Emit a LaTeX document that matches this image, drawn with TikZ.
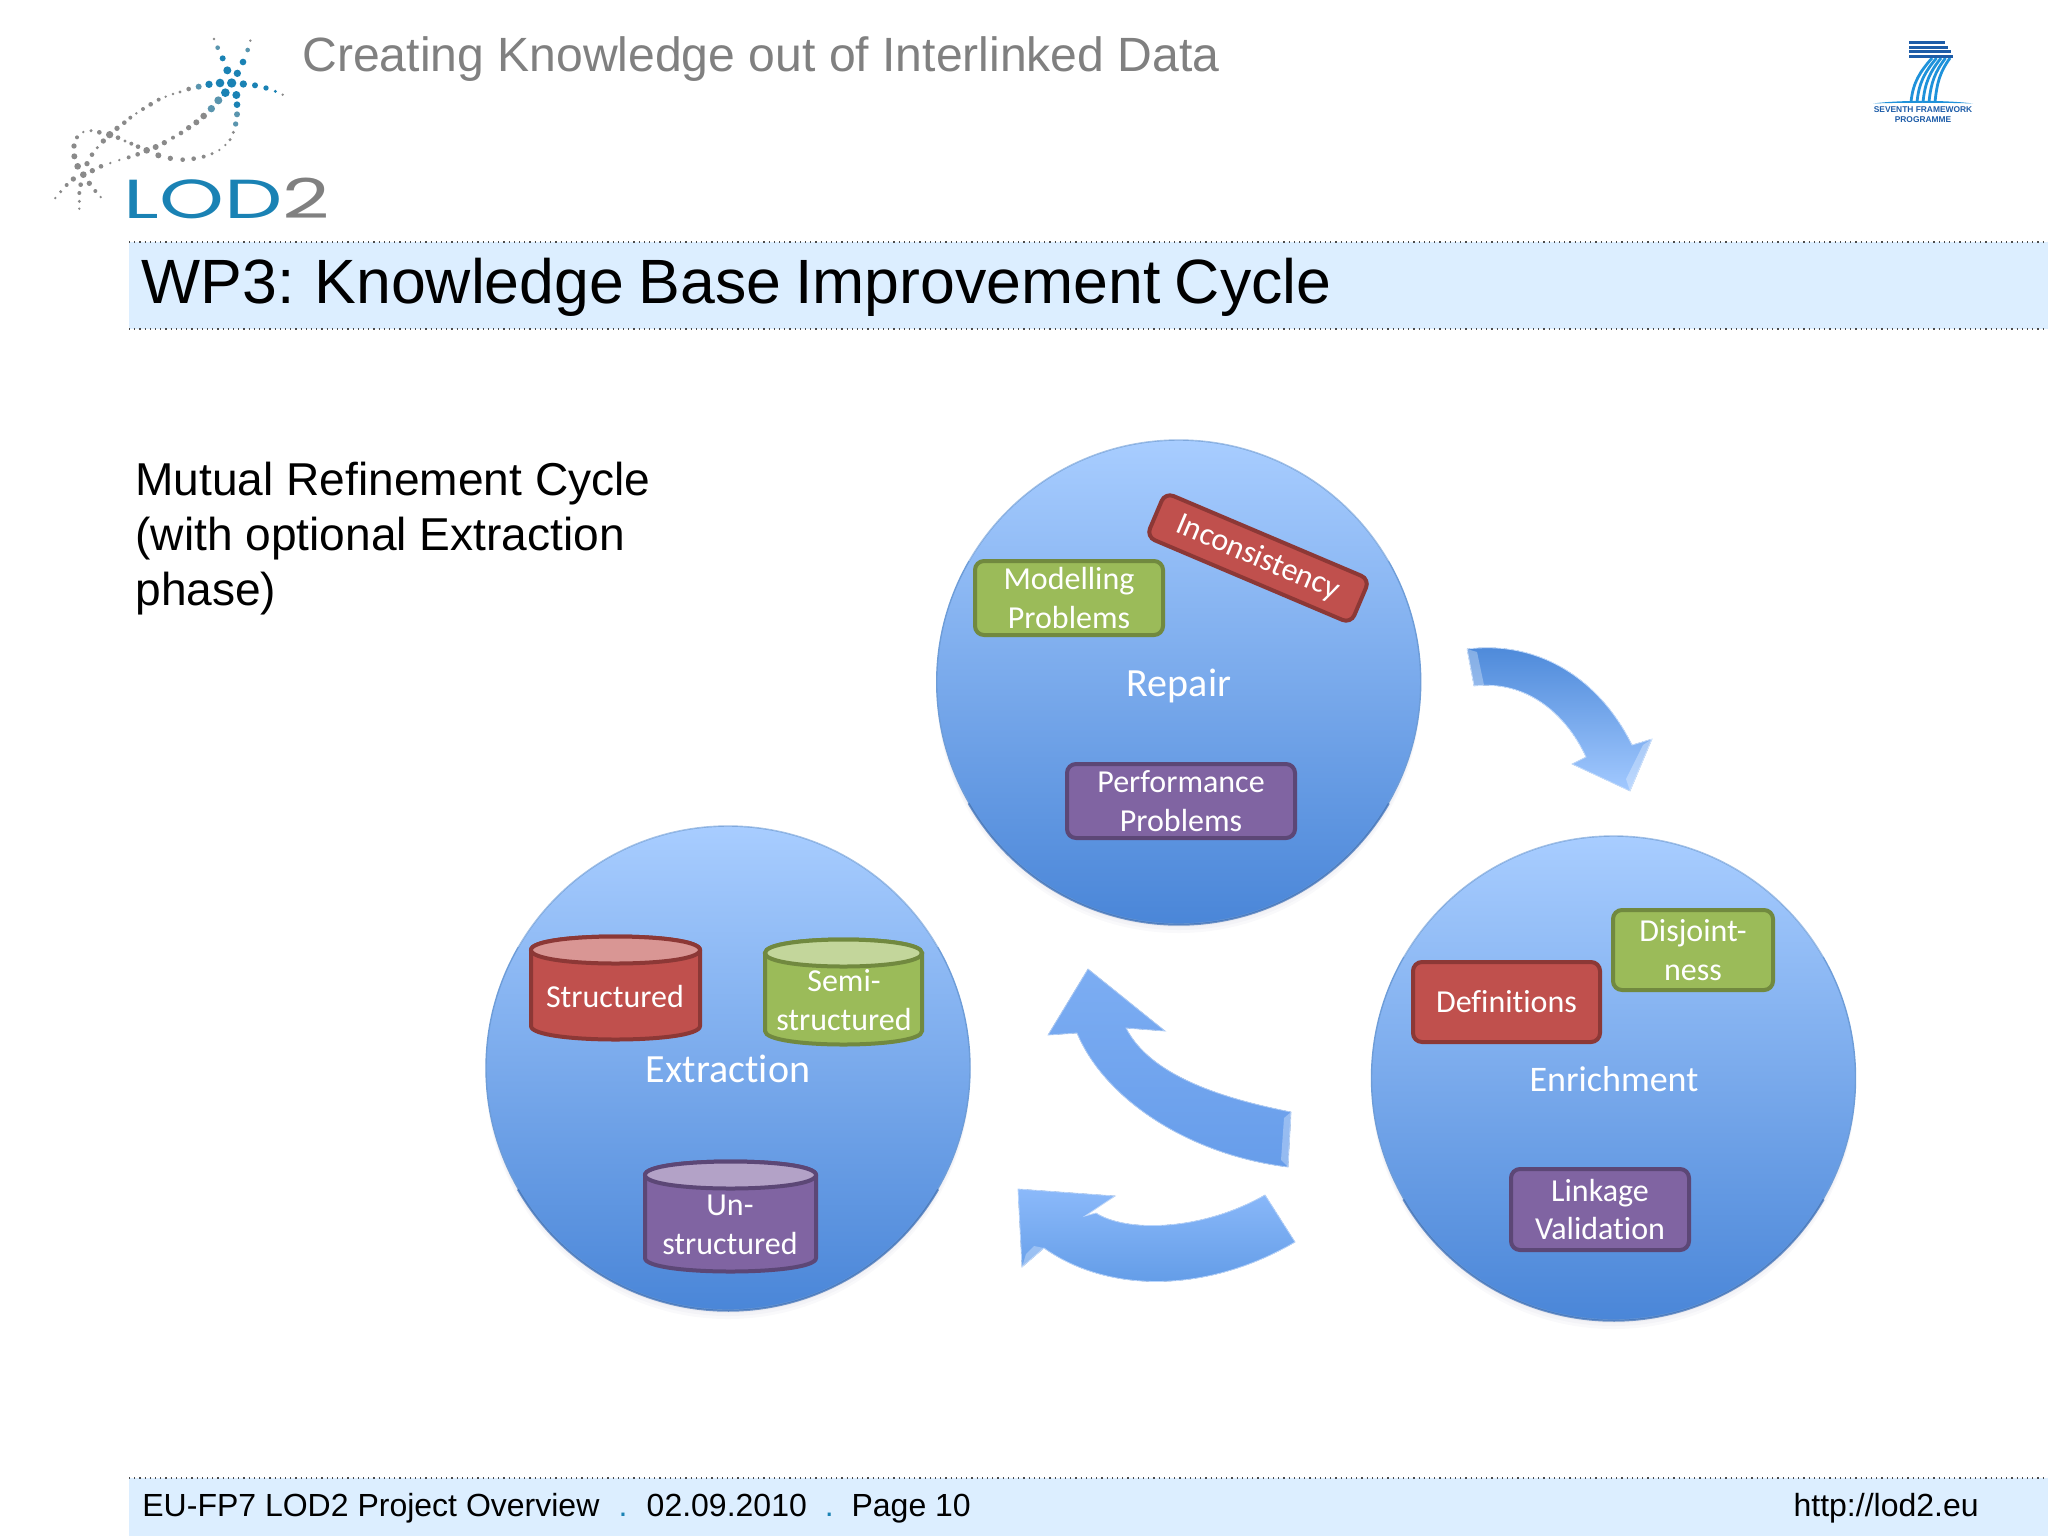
\documentclass[tikz,border=0pt]{standalone}
\usepackage{fontspec}
\setmainfont{Liberation Sans}
\newfontfamily\titlefont[WordSpace=0.82]{Liberation Sans}
\newfontfamily\calfont[Ligatures=NoCommon]{Carlito}
\newfontfamily\lodfont{Poppins}
\usetikzlibrary{shapes.geometric}
\definecolor{cTop}{HTML}{A8CDFF}
\definecolor{cMid}{HTML}{80AEF0}
\definecolor{cBot}{HTML}{4A86D8}
\definecolor{cEdge}{HTML}{6E9DD8}
\definecolor{cRed}{HTML}{C0504D}
\definecolor{cRedD}{HTML}{8C3836}
\definecolor{cRedL}{HTML}{D99694}
\definecolor{cGreen}{HTML}{9BBB59}
\definecolor{cGreenD}{HTML}{71893F}
\definecolor{cGreenL}{HTML}{C3D69B}
\definecolor{cPurple}{HTML}{8064A2}
\definecolor{cPurpleD}{HTML}{5C4776}
\definecolor{cPurpleL}{HTML}{B3A2C7}
\definecolor{cBar}{HTML}{DCEEFF}
\definecolor{cGrayT}{HTML}{808080}
\definecolor{cTeal}{HTML}{1A82B4}
\definecolor{cMixd}{HTML}{5A95AE}
\definecolor{cDot}{HTML}{8A8A8A}
\definecolor{fpDark}{HTML}{1D5CA8}
\definecolor{fpLight}{HTML}{1F92DA}
\definecolor{cRimD}{HTML}{3A6DB5}
\tikzset{
  bigcircle/.style={circle,minimum size=242pt,inner sep=0pt,draw=cEdge,line width=.7pt,top color=cTop,middle color=cMid,bottom color=cBot},
  rim/.style={line width=1pt,color=white,opacity=.35},
  rimdark/.style={line width=1pt,color=cRimD,opacity=.7},
  circlabel/.style={text=white,font=\calfont\fontsize{20}{24}\selectfont},
  probox/.style={rounded corners=4.5pt,line width=2pt,text=white,align=center,inner sep=0pt,font=\calfont\fontsize{16}{19.3}\selectfont},
  redbox/.style={probox,fill=cRed,draw=cRedD},
  greenbox/.style={probox,fill=cGreen,draw=cGreenD},
  purplebox/.style={probox,fill=cPurple,draw=cPurpleD},
  cyltext/.style={text=white,align=center,font=\calfont\fontsize{16}{19.3}\selectfont},
  blockarrow/.style={draw=#1!60!white,line width=.4pt},
  rule/.style={dotted,line width=.6pt,color=black!70},
  bevel/.style={fill=white,opacity=.3},
}
\newcommand{\cylshape}[7]{% x0 x1 y0 y1 fill edge light
  \filldraw[line width=2pt,draw=#6,fill=#5] (#1,#3+14) -- (#1,#4-14) .. controls (#1,#4+4) and (#2,#4+4) .. (#2,#4-14) -- (#2,#3+14) .. controls (#2,#3-4) and (#1,#3-4) .. (#1,#3+14) -- cycle;
  \filldraw[line width=2pt,draw=#6,fill=#7] (#1,#3+14) .. controls (#1,#3-4) and (#2,#3-4) .. (#2,#3+14) .. controls (#2,#3+32) and (#1,#3+32) .. (#1,#3+14) -- cycle;
}
\begin{document}
\begin{tikzpicture}[x=0.5pt,y=-0.5pt]
\useasboundingbox (0,0) rectangle (2048,1536);

% header
\node[anchor=west,text=cGrayT,font=\fontsize{24.05}{28}\selectfont,inner sep=0pt] (subtitle) at (302,59) {Creating Knowledge out of Interlinked Data};

% LOD2 logo dots
\begin{scope}[x=0.16667pt,y=-0.16667pt]
\foreach \a/\b/\r in {695/249/14,660/249/13,627/253/11,730/252/11,682/211/12,712/220/11,668/175/9,729/186/10,676/278/13,709/285/12,711/314/10,765/256/9,798/264/8,826/274/5}
  \fill[cTeal] (\a,\b) circle[radius=\r*.1667pt];
\foreach \a/\b/\r in {655/301/12,634/326/11,711/343/9,707/372/8,653/143/7,743/150/7,596/260/9}
  \fill[cMixd] (\a,\b) circle[radius=\r*.1667pt];
\foreach \a/\b/\r in {848/284/4,642/117/4,751/122/4,566/267/7,540/276/5,519/282/4,497/290/4,476/299/6,452/313/7,429/327/6,409/340/4,391/353/6,373/368/7,351/385/8,329/404/11,310/423/8,292/443/5,276/464/7,261/491/8,277/512/8,250/524/10,233/499/10,223/469/9,222/438/8,231/412/6,250/396/4,273/392/5,298/397/7,354/413/7,375/423/5,394/431/6,414/440/7,440/451/10,467/441/9,493/428/8,519/413/6,543/399/7,566/383/8,589/367/9,611/348/10,475/466/9,511/475/8,548/479/7,581/476/7,611/470/6,636/461/5,658/450/4,676/435/4,690/419/5,700/397/5,413/463/7,386/472/6,358/480/4,331/489/4,303/499/7,220/537/8,200/555/6,182/575/5,166/594/4,242/554/7,268/550/8,238/579/6,286/573/6,302/591/4,238/604/5,238/626/4}
  \fill[cDot] (\a,\b) circle[radius=\r*.1667pt];
\end{scope}
\node[anchor=west,inner sep=0pt,xscale=1.5,font=\lodfont\fontsize{27.5}{30}\selectfont] (lodmark) at (123,198) {\textcolor{cTeal}{LOD}\textcolor{cGrayT}{2}};

% FP7 logo
\foreach \i in {0,...,4}
  \draw[line width=1.4pt,color=fpLight] ({1911+6*\i},102) .. controls ({1913+6*\i},82) and ({1920+5*\i},72) .. ({1932+4.5*\i},58);
\foreach \yy/\xx in {43/1945,47.5/1948,52/1951,57/1953}
  \draw[line width=1.5pt,color=fpDark] (1909,\yy) -- (\xx,\yy);
\fill[fpLight] (1873,103.5) .. controls (1900,100) and (1945,100) .. (1973,103.5) .. controls (1945,102.5) and (1900,102.5) .. (1873,103.5) -- cycle;
\node[inner sep=0pt,align=center,text=fpDark,font=\bfseries\fontsize{4.2}{4.7}\selectfont] (fp7text) at (1923,114.5) {SEVENTH FRAMEWORK\\PROGRAMME};

% title bar
\fill[cBar] (129,242) rectangle (2048,329);
\draw[rule] (129,242) -- (2048,242);
\draw[rule] (129,329) -- (2048,329);
\node[anchor=west,inner sep=0pt,font=\titlefont\fontsize{31.3}{36}\selectfont] (title) at (141,287) {WP3: Knowledge Base Improvement Cycle};

% body text
\node[anchor=north west,inner sep=0pt,align=left,font=\fontsize{23.05}{27.5}\selectfont] (body) at (135,462) {Mutual Refinement Cycle\\(with optional Extraction\\phase)};

% footer
\fill[cBar] (129,1478) rectangle (2048,1536);
\draw[rule] (129,1478) -- (2048,1478);
\node[anchor=west,inner sep=0pt,font=\fontsize{16}{19}\selectfont] (foot) at (142,1508) {EU-FP7 LOD2 Project Overview\hspace{.6em}\textcolor{cTeal}{.}\hspace{.6em}02.09.2010\hspace{.56em}\textcolor{cTeal}{.}\hspace{.56em}Page 10};
\node[anchor=east,inner sep=0pt,font=\fontsize{16}{19}\selectfont] (url) at (1979,1508) {http://lod2.eu};

% soft shadows
\foreach \s in {3,6,9}{
  \fill[blue!30!black,opacity=.025] (1178.7,{682+\s}) circle[radius=121pt];
  \fill[blue!30!black,opacity=.025] (728,{1068+\s}) circle[radius=121pt];
  \fill[blue!30!black,opacity=.025] (1613.5,{1078+\s}) circle[radius=121pt];
}

% circles
\node[bigcircle] (repair) at (1178.7,682) {};
\node[bigcircle] (extraction) at (728,1068) {};
\node[bigcircle] (enrichment) at (1613.5,1078) {};
\foreach \c in {repair,extraction,enrichment}{
  \draw[rim] (\c.150) arc[start angle=150,end angle=30,radius=121.35pt];
  \draw[rimdark] (\c.-150) arc[start angle=-150,end angle=-30,radius=121.35pt];
}

\node[circlabel] (lrepair) at (1179,686) {Repair};
\node[circlabel] (lextraction) at (728,1069) {Extraction};
\node[circlabel,font=\calfont\fontsize{18}{22}\selectfont] (lenrichment) at (1614,1079) {Enrichment};

% repair boxes
\node[greenbox,minimum width=94pt,minimum height=37pt] (modelling) at (1069,598) {Modelling\\Problems};
\node[redbox,minimum width=111pt,minimum height=24pt,rotate=-23] (inconsistency) at (1258,558) {Inconsistency};
\node[purplebox,minimum width=114pt,minimum height=37pt] (performance) at (1181,801) {Performance\\Problems};

% enrichment boxes
\node[greenbox,minimum width=80pt,minimum height=40pt] (disjoint) at (1693,950) {Disjoint-\\ness};
\node[redbox,minimum width=93.5pt,minimum height=40pt] (definitions) at (1506.5,1002) {Definitions};
\node[purplebox,minimum width=89pt,minimum height=40.5pt] (linkage) at (1600,1209.5) {Linkage\\Validation};

% cylinders
\cylshape{531}{700}{936}{1040}{cRed}{cRedD}{cRedL}
\node[cyltext] (structured) at (615,996) {Structured};
\cylshape{765}{922}{939}{1045}{cGreen}{cGreenD}{cGreenL}
\node[cyltext] (semi) at (844,1000) {Semi-\\structured};
\cylshape{645}{816}{1161}{1272}{cPurple}{cPurpleD}{cPurpleL}
\node[cyltext] (un) at (730,1225) {Un-\\structured};

% block arrows
\definecolor{aA}{HTML}{4A87D8}\definecolor{aB}{HTML}{A2C9FF}
\filldraw[blockarrow=aB,top color=aA,bottom color=aB]
  (1467,649) .. controls (1540,640) and (1600,680) .. (1632,745) -- (1652,739) -- (1630,791) -- (1572,764) -- (1586,757) .. controls (1565,712) and (1525,680) .. (1474,686) -- cycle;
\fill[bevel] (1467,649) -- (1474,686) -- (1484,685) -- (1477,652) -- cycle;
\fill[bevel] (1652,739) -- (1630,791) -- (1626,779) -- (1643,745) -- cycle;

\definecolor{aC}{HTML}{7CADF3}\definecolor{aD}{HTML}{679DEA}
\filldraw[blockarrow=aC,top color=aC,bottom color=aD]
  (1088,969) -- (1165,1031) -- (1126,1028) .. controls (1150,1075) and (1220,1098) .. (1291,1112) -- (1288,1167) .. controls (1190,1155) and (1105,1100) .. (1077,1033) -- (1048,1035) -- cycle;
\fill[bevel] (1291,1112) -- (1288,1167) -- (1281,1160) -- (1284,1118) -- cycle;

\definecolor{aE}{HTML}{8BB9FA}\definecolor{aF}{HTML}{5E99E5}
\filldraw[blockarrow=aE,top color=aE,bottom color=aF]
  (1018,1189) -- (1115,1196) -- (1085,1216) -- (1096,1213) .. controls (1125,1232) and (1200,1232) .. (1265,1195) -- (1295,1242) .. controls (1210,1292) and (1110,1295) .. (1044,1248) -- (1022,1267) -- cycle;
\fill[bevel] (1022,1267) -- (1044,1248) -- (1034,1246) -- (1026,1254) -- cycle;
\fill[bevel] (1115,1196) -- (1085,1216) -- (1096,1213) -- cycle;
\end{tikzpicture}
\end{document}
